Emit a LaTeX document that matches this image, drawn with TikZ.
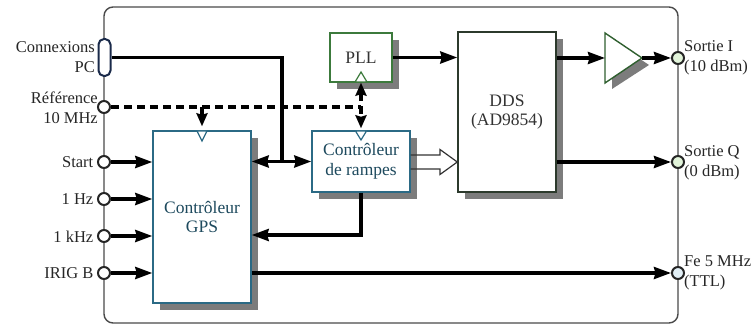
\documentclass[tikz,border=0pt]{standalone}
\usepackage{fontspec}
\setmainfont{Liberation Serif}
\usetikzlibrary{arrows.meta,shadows}
\definecolor{framegray}{HTML}{4A4A4A}
\definecolor{tealb}{HTML}{2B6A85}
\definecolor{tealtext}{HTML}{1E4A5E}
\definecolor{pllgreen}{HTML}{3C7A3C}
\definecolor{ddsborder}{HTML}{2C3A2C}
\definecolor{ampgreen}{HTML}{2F5F2F}
\definecolor{shadowgray}{HTML}{7C7C7C}
\definecolor{pcnavy}{HTML}{1A2A4A}
\definecolor{ofillg}{HTML}{E2F4DA}
\definecolor{ofillb}{HTML}{E2EFF6}
\begin{document}
\begin{tikzpicture}[x=1pt,y=-1pt,
  lbl/.style={font=\fontsize{16.5}{20}\selectfont, text=black!85, inner sep=0pt},
  boxtext/.style={font=\fontsize{17.5}{19.5}\selectfont, align=center},
  blk/.style={draw, line width=1.4pt, fill=white, inner sep=0pt, boxtext,
    general shadow={fill=shadowgray, shadow xshift=7pt, shadow yshift=-7pt, draw=none}},
  incirc/.style={circle, draw=black!85, line width=2pt, fill=white, minimum size=12pt, inner sep=0pt},
  outcirc/.style={circle, draw=black!85, line width=2pt, fill=ofillg, minimum size=12pt, inner sep=0pt},
  conn/.style={line width=3.3pt, black},
  tip/.tip={Stealth[length=17pt,width=12pt,inset=1.5pt]},
  arr/.style={conn, -tip},
  dasharr/.style={line width=3.4pt, black, dash pattern=on 8pt off 5pt},
  dtip/.tip={Stealth[length=13pt,width=11pt,inset=1.5pt]},
  clk/.style={line width=1.2pt, fill=white}
]
\useasboundingbox (0,0) rectangle (756,326);

% frame
\draw[framegray, line width=1.4pt, rounded corners=9pt] (104,7) rectangle (678,323);

% blocks
\node[blk, draw=tealb, text=tealtext, minimum width=98pt, minimum height=172pt] (gps) at (202,217) {Contrôleur\\GPS};
\node[blk, draw=tealb, text=tealtext, minimum width=98pt, minimum height=61pt] (ramp) at (361,161.5) {Contrôleur\\de rampes};
\node[blk, draw=pllgreen, text=black!80, minimum width=62pt, minimum height=49pt] (pll) at (361,57.5) {PLL};
\node[blk, draw=ddsborder, text=black!80, minimum width=98pt, minimum height=160pt] (dds) at (507,112) {DDS\\(AD9854)};

% amplifier
\coordinate (ampin) at (605,58);
\coordinate (ampout) at (642,58);
\fill[shadowgray] (612,40) -- (649,65) -- (612,89) -- cycle;
\draw[ampgreen, line width=1.4pt, fill=white] (605,33) -- (ampout) -- (605,83) -- cycle;

% clock triangles
\draw[clk, draw=tealb] (197,131) -- (207,131) -- (202,141) -- cycle;
\draw[clk, draw=tealb] (355.5,131) -- (366.5,131) -- (361,140) -- cycle;
\draw[clk, draw=pllgreen] (355,82) -- (367,82) -- (361,72) -- cycle;

% input connectors
\node[rectangle, rounded corners=5.5pt, draw=pcnavy, line width=2pt, fill=white, minimum width=12pt, minimum height=37pt, inner sep=0pt] (pc) at (104.5,57.5) {};
\node[incirc] (ref) at (104,107) {};
\node[incirc] (start) at (104,162) {};
\node[incirc] (hz) at (104,199) {};
\node[incirc] (khz) at (104,236) {};
\node[incirc] (irig) at (104,273) {};

% output connectors
\node[outcirc] (souti) at (678,58) {};
\node[outcirc] (soutq) at (678,162) {};
\node[outcirc, fill=ofillb] (fe) at (678,273) {};

% labels left
\node[lbl, anchor=east, align=right] (lpc) at (95,57) {Connexions\\PC};
\node[lbl, anchor=east, align=right] (lref) at (98,107.5) {Référence\\10 MHz};
\node[lbl, anchor=east] (lstart) at (93.5,162.5) {Start};
\node[lbl, anchor=east] (lhz) at (93.5,199.5) {1 Hz};
\node[lbl, anchor=east] (lkhz) at (93.5,236.5) {1 kHz};
\node[lbl, anchor=east] (lirig) at (93.5,273) {IRIG B};
% labels right
\node[lbl, anchor=west, align=left] (lsi) at (684,58) {Sortie I\\(10 dBm)};
\node[lbl, anchor=west, align=left] (lsq) at (684,163) {Sortie Q\\(0 dBm)};
\node[lbl, anchor=west, align=left] (lfe) at (684,273) {Fe 5 MHz\\(TTL)};

% input arrows
\draw[arr] (start) -- (start -| gps.west);
\draw[arr] (hz) -- (hz -| gps.west);
\draw[arr] (khz) -- (khz -| gps.west);
\draw[arr] (irig) -- (irig -| gps.west);

% PC line
\coordinate (pcj) at (282,161.5);
\draw[conn] (pc.east) -| (pcj);
\draw[conn, tip-tip] (gps.east |- ramp.west) -- (ramp.west);

% rampes -> GPS
\coordinate (rb) at (0,235);
\draw[arr] (ramp.south) |- (gps.east |- rb);

% hollow arrow rampes -> DDS
\draw[line width=1.2pt, black!80, line join=miter] (ramp.east |- 0,155) -- (440,155) -- (440,149.5) -- (dds.west |- 0,162) -- (440,174.5) -- (440,169) -- (ramp.east |- 0,169);

% PLL -> DDS
\draw[arr] (pll.east) -- (pll.east -| dds.west);

% DDS -> amp -> Sortie I
\draw[arr] (dds.east |- ampin) -- (ampin);
\draw[arr] (ampout) -- (souti);
% DDS -> Sortie Q
\draw[arr] (dds.east |- soutq) -- (soutq);
% GPS -> Fe 5 MHz
\draw[arr] (gps.east |- fe) -- (fe);

% dashed reference distribution
\coordinate (dj) at (361,107);
\draw[dasharr] (ref) -- (dj);
\draw[dasharr, -dtip, shorten >=4pt] (gps.north |- ref) -- (gps.north);
\draw[dasharr, dtip-dtip, shorten >=2pt] (pll.south) -- (ramp.north);
\end{tikzpicture}
\end{document}
